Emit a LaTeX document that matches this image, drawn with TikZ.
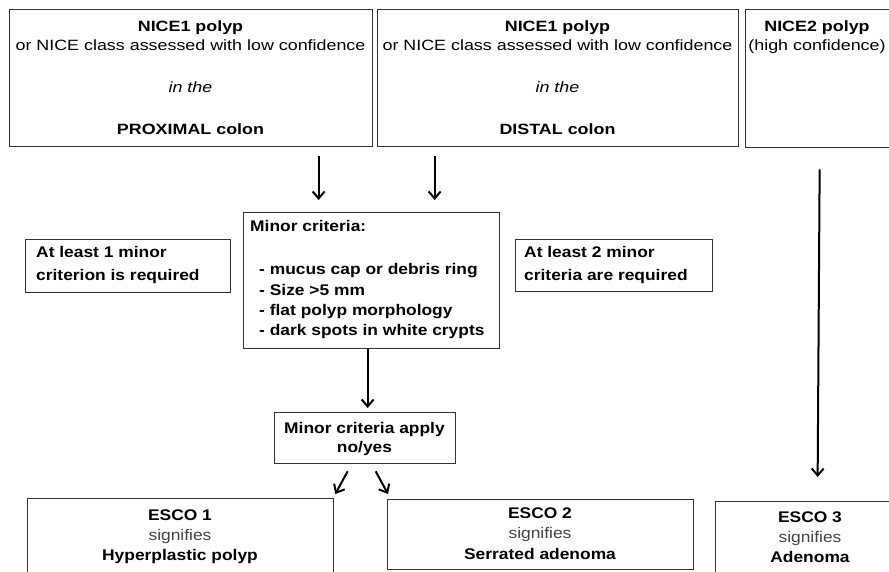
\documentclass[tikz,border=0pt]{standalone}
\usepackage{fontspec}
\setmainfont{Liberation Sans}[FakeStretch=1.13]
\newfontfamily\topfont{Liberation Sans}[FakeStretch=1.2]
\usetikzlibrary{arrows.meta}
\definecolor{edge}{HTML}{333333}
\definecolor{soft}{HTML}{444444}
\tikzset{
  box/.style={draw=edge, line width=1.3pt, inner sep=0pt, anchor=north west, fill=white},
  txt/.style={inner sep=0pt, anchor=base, font=\fontsize{15.4}{17}\selectfont},
  ltxt/.style={txt, anchor=base west},
  toptxt/.style={inner sep=0pt, anchor=base, font=\topfont\fontsize{14.9}{17}\selectfont},
  arr/.style={line width=2pt, -{Straight Barb[length=7pt,width=12pt,line width=2pt]}}
}
\begin{document}
\begin{tikzpicture}[x=1pt,y=-1pt]
\useasboundingbox (0,0) rectangle (889,572);
\fill[white] (0,0) rectangle (889,572);
\clip (0,0) rectangle (889,572);

% top boxes
\node[box, minimum width=363pt, minimum height=137pt] (A) at (9,9) {};
\node[box, minimum width=361pt, minimum height=137pt] (B) at (377,9) {};
\node[box, minimum width=150pt, minimum height=138pt] (C) at (745,9) {};

\node[toptxt] (A1) at (190.5,32) {\bfseries NICE1 polyp};
\node[toptxt] (A2) at (190.5,51) {or NICE class assessed with low confidence};
\node[toptxt] (A3) at (190.5,93) {\itshape in the};
\node[toptxt] (A4) at (190.5,135) {\bfseries PROXIMAL colon};

\node[toptxt] (B1) at (557.5,32) {\bfseries NICE1 polyp};
\node[toptxt] (B2) at (557.5,51) {or NICE class assessed with low confidence};
\node[toptxt] (B3) at (557.5,93) {\itshape in the};
\node[toptxt] (B4) at (557.5,135) {\bfseries DISTAL colon};

\node[toptxt] (C1) at (817,32) {\bfseries NICE2 polyp};
\node[toptxt] (C2) at (817,51) {(high confidence)};

% minor criteria
\node[box, minimum width=256pt, minimum height=136pt] (M) at (243,212) {};
\node[ltxt] (M0) at (250,232) {\bfseries Minor criteria:};
\node[ltxt] (M1) at (259,275) {\bfseries - mucus cap or debris ring};
\node[ltxt] (M2) at (259,295) {\bfseries - Size >5 mm};
\node[ltxt] (M3) at (259,315) {\bfseries - flat polyp morphology};
\node[ltxt] (M4) at (259,335) {\bfseries - dark spots in white crypts};

% side notes
\node[box, minimum width=205pt, minimum height=53pt] (L) at (25,239) {};
\node[ltxt] (L1) at (36,258) {\bfseries At least 1 minor};
\node[ltxt] (L2) at (36,280) {\bfseries criterion is required};

\node[box, minimum width=197pt, minimum height=52pt] (R) at (515,239) {};
\node[ltxt] (R1) at (524,258) {\bfseries At least 2 minor};
\node[ltxt] (R2) at (524,280) {\bfseries criteria are required};

% minor criteria apply
\node[box, minimum width=181pt, minimum height=51pt] (MA) at (274,412) {};
\node[txt] (MA1) at (364.5,433) {\bfseries Minor criteria apply};
\node[txt] (MA2) at (364.5,452) {\bfseries no/yes};

% ESCO boxes
\node[box, minimum width=306pt, minimum height=80pt] (E1) at (27,498) {};
\node[txt] (E11) at (180,520) {\bfseries ESCO 1};
\node[txt, text=soft] (E12) at (180,540) {signifies};
\node[txt] (E13) at (180,560) {\bfseries Hyperplastic polyp};

\node[box, minimum width=306pt, minimum height=70pt] (E2) at (387,499) {};
\node[txt] (E21) at (540,518) {\bfseries ESCO 2};
\node[txt, text=soft] (E22) at (540,538) {signifies};
\node[txt] (E23) at (540,559) {\bfseries Serrated adenoma};

\node[box, minimum width=190pt, minimum height=80pt] (E3) at (715,501) {};
\node[txt] (E31) at (810,522) {\bfseries ESCO 3};
\node[txt, text=soft] (E32) at (810,542) {signifies};
\node[txt] (E33) at (810,562) {\bfseries Adenoma};

% arrows
\draw[arr] ([xshift=127.5pt,yshift=-9pt]A.south) -- ([xshift=-53pt,yshift=12pt]M.north);
\draw[arr] ([xshift=-123.5pt,yshift=-9pt]B.south) -- ([xshift=63pt,yshift=12pt]M.north);
\draw[arr] ([xshift=-4pt]M.south) -- ([xshift=2.5pt,yshift=4pt]MA.north);
\draw[arr] ([xshift=-17.5pt,yshift=-7pt]MA.south) -- ([xshift=1pt,yshift=4pt]E1.north east);
\draw[arr] ([xshift=10.5pt,yshift=-7pt]MA.south) -- ([xshift=1pt,yshift=5pt]E2.north west);
\draw[arr] ([xshift=-1pt,yshift=-21pt]C.south) -- ([xshift=7pt,yshift=24pt]E3.north);
\end{tikzpicture}
\end{document}
